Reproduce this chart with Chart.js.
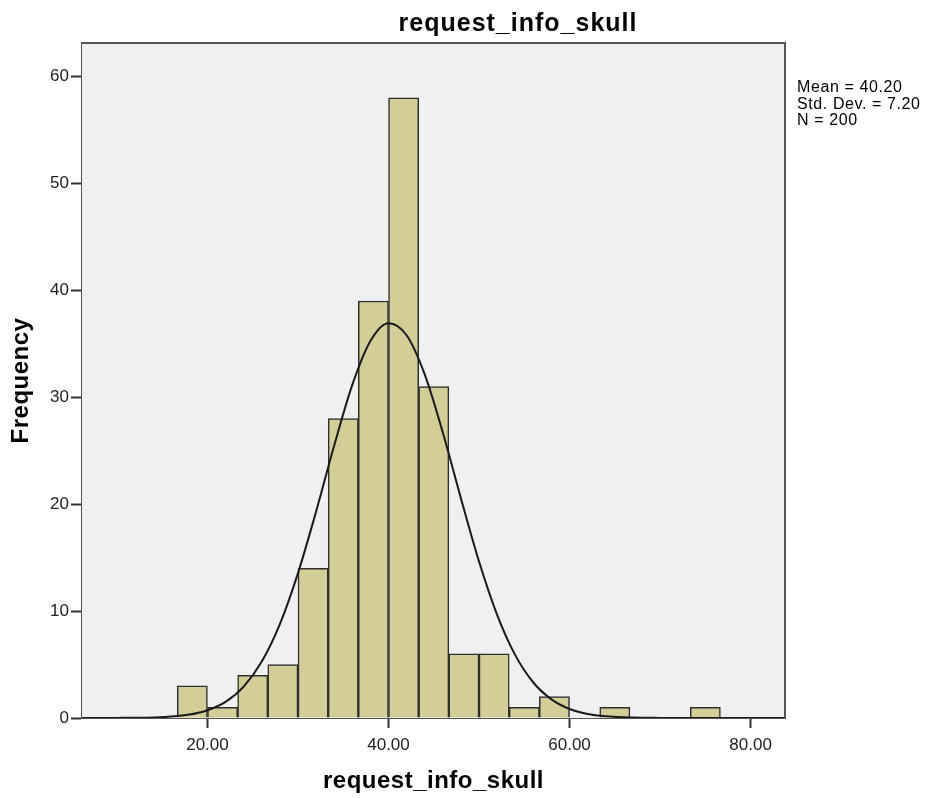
<!DOCTYPE html>
<html>
<head>
<meta charset="utf-8">
<script src="https://cdn.jsdelivr.net/npm/chart.js@4.4.1/dist/chart.umd.min.js"></script>
<style>
  html, body { margin: 0; padding: 0; background: #fff; }
  #wrap { width: 934px; height: 798px; }
</style>
</head>
<body>
<div id="wrap"><canvas id="histChart" width="934" height="798"></canvas></div>
<script>
// histogram bins (centres, width 3.333)
const binCenters = [18.33, 21.67, 25.00, 28.33, 31.67, 35.00, 38.33, 41.67, 45.00,
                    48.33, 51.67, 55.00, 58.33, 61.67, 65.00, 68.33, 71.67, 75.00];
const binCounts = [3, 1, 4, 5, 14, 28, 39, 58, 31, 6, 6, 1, 2, 0, 1, 0, 0, 1];

// normal curve
const curveX = [6, 8, 10, 12, 14, 16, 18, 20, 22, 24, 26, 28, 30, 32, 34, 36, 38, 40,
                42, 44, 46, 48, 50, 52, 54, 56, 58, 60, 62, 64, 66, 68, 70, 72, 76, 80, 84];
const curveY = [0, 0, 0.01, 0.02, 0.05, 0.13, 0.32, 0.73, 1.51, 2.94, 5.28, 8.78, 13.55,
                19.31, 25.49, 31.16, 35.26, 36.93, 35.80, 32.14, 26.70, 20.54, 14.63, 9.65,
                5.88, 3.32, 1.74, 0.84, 0.38, 0.16, 0.06, 0.02, 0.01, 0, 0, 0, 0];

const xTicks = [20, 40, 60, 80];
const yTicks = [0, 10, 20, 30, 40, 50, 60];
const statLines = ['Mean = 40.20', 'Std. Dev. = 7.20', 'N = 200'];
const titleText = 'request_info_skull';
const xTitle = 'request_info_skull';
const yTitle = 'Frequency';

const FONT = '"Liberation Sans", Arial, sans-serif';

const frame = {
    id: 'frame',
    beforeDatasetsDraw(chart) {
        const { ctx, chartArea: a } = chart;
        ctx.save();
        ctx.fillStyle = '#f0f0f0';
        ctx.fillRect(a.left, a.top, a.right - a.left, a.bottom - a.top);
        ctx.restore();
    },
    afterDraw(chart) {
        const { ctx, chartArea: a } = chart;
        ctx.save();
        ctx.strokeStyle = '#555';
        ctx.lineWidth = 2;
        ctx.beginPath();
        ctx.moveTo(a.left, a.top);
        ctx.lineTo(a.right, a.top);
        ctx.lineTo(a.right, a.bottom);
        ctx.stroke();

        ctx.fillStyle = '#000';
        ctx.textBaseline = 'alphabetic';
        ctx.letterSpacing = '1px';
        ctx.font = 'bold 25px ' + FONT;
        ctx.textAlign = 'center';
        ctx.fillText(titleText, 518, 31);

        ctx.letterSpacing = '0.5px';
        ctx.font = 'bold 24px ' + FONT;
        ctx.fillText(xTitle, (a.left + a.right) / 2, 788);

        ctx.save();
        ctx.translate(28, (a.top + a.bottom) / 2);
        ctx.rotate(-Math.PI / 2);
        ctx.fillText(yTitle, 0, 0);
        ctx.restore();

        ctx.letterSpacing = '0.6px';
        ctx.font = '16px ' + FONT;
        ctx.textAlign = 'left';
        statLines.forEach((s, i) => ctx.fillText(s, 797, 92 + i * 16.6));
        ctx.restore();
    }
};

new Chart(document.getElementById('histChart').getContext('2d'), {
    data: {
        datasets: [{
            type: 'bar',
            data: binCenters.map((c, i) => ({ x: c, y: binCounts[i] })),
            backgroundColor: '#d3ce97',
            borderColor: '#2e2e2e',
            borderWidth: 1.5,
            barPercentage: 1,
            categoryPercentage: 1,
            grouped: false,
            order: 1
        }, {
            type: 'line',
            data: curveX.map((x, i) => ({ x: x, y: curveY[i] })),
            borderColor: '#1a1a1a',
            borderWidth: 2,
            pointRadius: 0,
            fill: false,
            cubicInterpolationMode: 'monotone',
            order: 0
        }]
    },
    options: {
        responsive: false,
        animation: false,
        layout: { padding: { left: 0, right: 149, top: 43, bottom: 0 } },
        plugins: { legend: { display: false }, tooltip: { enabled: false }, title: { display: false } },
        scales: {
            x: {
                type: 'linear',
                offset: false,
                min: 6.14,
                max: 83.8,
                afterBuildTicks: s => { s.ticks = xTicks.map(v => ({ value: v })); },
                afterFit: s => { s.height = 80; },
                grid: { offset: false, drawOnChartArea: false, drawTicks: true, tickLength: 10, tickColor: '#333', tickWidth: 2 },
                border: { display: true, color: '#555', width: 2 },
                ticks: {
                    font: { family: FONT, size: 17 },
                    color: '#222',
                    padding: 7,
                    maxRotation: 0,
                    callback: v => v.toFixed(2)
                }
            },
            y: {
                min: 0,
                max: 63.13,
                afterBuildTicks: s => { s.ticks = yTicks.map(v => ({ value: v })); },
                afterFit: s => { s.width = 82; },
                grid: { drawOnChartArea: false, drawTicks: true, tickLength: 11, tickColor: '#333', tickWidth: 2 },
                border: { display: true, color: '#555', width: 2 },
                ticks: {
                    font: { family: FONT, size: 17 },
                    color: '#222',
                    padding: 2
                }
            }
        }
    },
    plugins: [frame]
});
</script>
</body>
</html>
